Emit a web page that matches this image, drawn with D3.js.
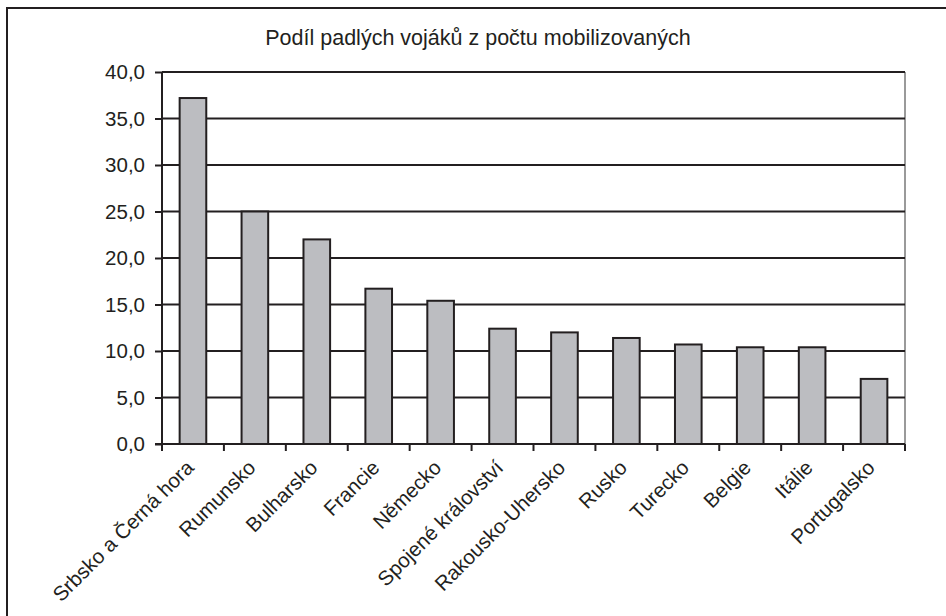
<!DOCTYPE html>
<html>
<head>
<meta charset="utf-8">
<script src="https://cdn.jsdelivr.net/npm/d3@7"></script>
<style>
  html, body { margin: 0; padding: 0; background: #fff; }
  svg { display: block; font-family: "Liberation Sans", Arial, sans-serif; }
</style>
</head>
<body>
<svg id="chart" width="946" height="616"></svg>
<script>
const title = "Podíl padlých vojáků z počtu mobilizovaných";
const categories = ["Srbsko a Černá hora", "Rumunsko", "Bulharsko", "Francie", "Německo",
  "Spojené království", "Rakousko-Uhersko", "Rusko", "Turecko", "Belgie", "Itálie", "Portugalsko"];
const values = [37.2, 25.0, 22.0, 16.7, 15.4, 12.4, 12.0, 11.4, 10.7, 10.4, 10.4, 7.0];
const yTicks = [0, 5, 10, 15, 20, 25, 30, 35, 40];

const svg = d3.select("#chart");
const m = { left: 162, right: 905, top: 72, bottom: 444 };
const ink = "#231f20";
const fontTick = "20.5px";

// outer chart frame (extends beyond the canvas on right and bottom)
svg.append("rect").attr("x", 7).attr("y", 8).attr("width", 960).attr("height", 640)
  .attr("fill", "#fff").attr("stroke", ink).attr("stroke-width", 2);

const x = d3.scaleBand().domain(categories).range([m.left, m.right])
  .paddingInner(0.57).paddingOuter(0.285);
const y = d3.scaleLinear().domain([0, 40]).range([m.bottom, m.top]);

// plot area right border (gray)
svg.append("line").attr("x1", m.right).attr("x2", m.right).attr("y1", m.top).attr("y2", m.bottom)
  .attr("stroke", "#9a9a9a").attr("stroke-width", 2);

// gridlines
svg.append("g").selectAll("line").data(yTicks.filter(d => d > 0)).join("line")
  .attr("x1", m.left).attr("x2", m.right)
  .attr("y1", d => y(d)).attr("y2", d => y(d))
  .attr("stroke", ink).attr("stroke-width", 2);

// bars
svg.append("g").selectAll("rect").data(values).join("rect")
  .attr("x", (d, i) => x(categories[i]))
  .attr("y", d => y(d))
  .attr("width", x.bandwidth())
  .attr("height", d => y(0) - y(d))
  .attr("fill", "#bcbdc1").attr("stroke", ink).attr("stroke-width", 2);

// y axis
const yAxis = d3.axisLeft(y).tickValues(yTicks).tickSize(7).tickPadding(10)
  .tickFormat(d => d3.format(".1f")(d).replace(".", ","));
const gy = svg.append("g").attr("transform", `translate(${m.left},0)`).call(yAxis);
gy.select(".domain").attr("stroke", ink).attr("stroke-width", 2).attr("d", `M-7,${m.bottom}H0V${m.top}`);
gy.selectAll(".tick line").attr("stroke", ink).attr("stroke-width", 2);
gy.selectAll(".tick text").attr("fill", ink).style("font-size", fontTick)
  .style("font-family", "'Liberation Sans', Arial, sans-serif");

// x axis: ticks at band boundaries
const xAxisG = svg.append("g");
xAxisG.append("line").attr("x1", m.left - 7).attr("x2", m.right).attr("y1", m.bottom).attr("y2", m.bottom)
  .attr("stroke", ink).attr("stroke-width", 2);
const bounds = categories.map(c => x(c) - x.step() * x.paddingInner() / 2).concat([m.right]);
bounds[0] = m.left;
xAxisG.selectAll("line.tk").data(bounds).join("line").attr("class", "tk")
  .attr("x1", d => d).attr("x2", d => d).attr("y1", m.bottom).attr("y2", m.bottom + 7)
  .attr("stroke", ink).attr("stroke-width", 2);
xAxisG.selectAll("text").data(categories).join("text")
  .attr("transform", d => `translate(${x(d) + x.bandwidth() / 2 + 2},${m.bottom + 25}) rotate(-45)`)
  .attr("text-anchor", "end")
  .attr("fill", ink).style("font-size", fontTick)
  .text(d => d);

// title
svg.append("text").attr("x", 478).attr("y", 45).attr("text-anchor", "middle")
  .attr("fill", ink).style("font-size", "21.5px").text(title);
</script>
</body>
</html>
